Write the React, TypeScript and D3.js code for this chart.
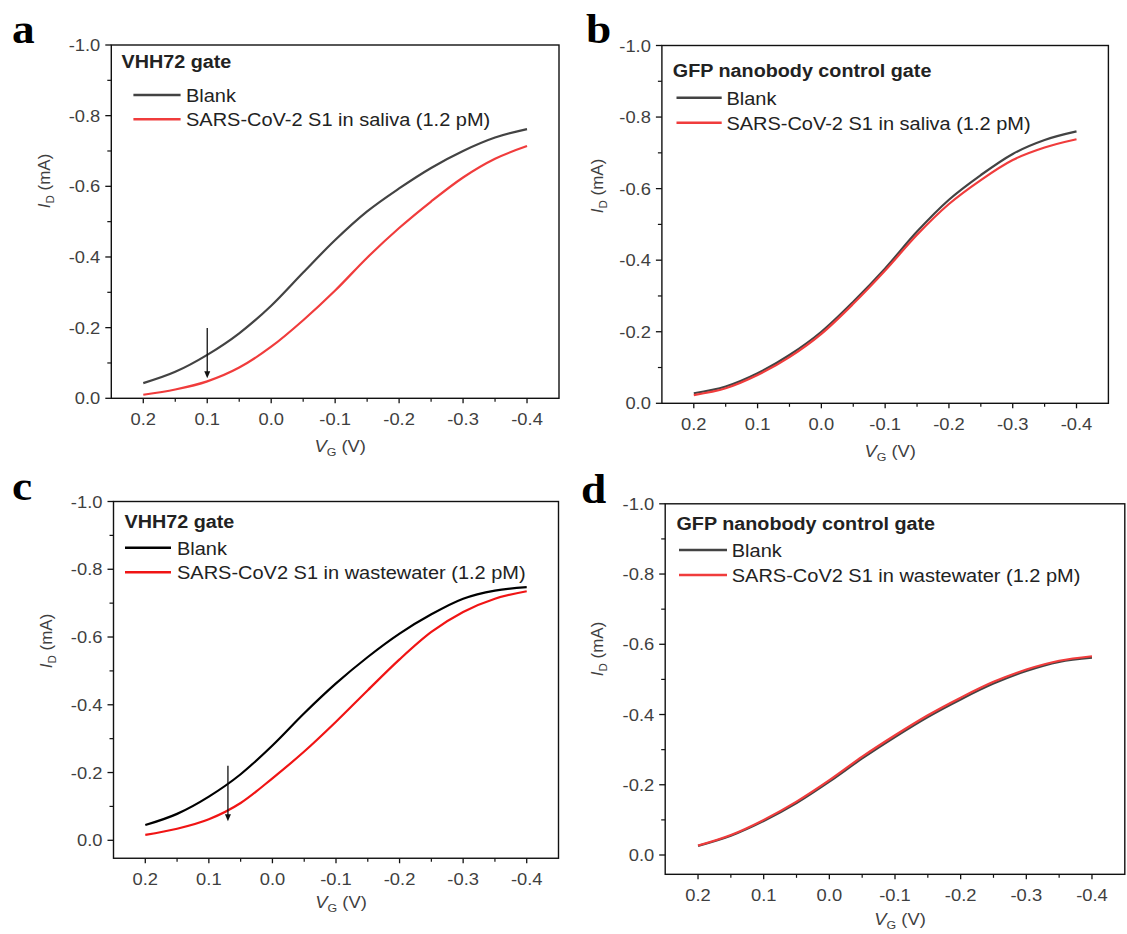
import React from "react";
import * as d3 from "d3";

// gate voltage (V), sampled every 0.05 V
const vgValues = [0.2, 0.15, 0.1, 0.05, 0.0, -0.05, -0.1, -0.15, -0.2, -0.25, -0.3, -0.35, -0.4];

// drain current I_D (mA)
const aBlank = [-0.043, -0.075, -0.123, -0.184, -0.262, -0.356, -0.448, -0.529, -0.594, -0.652, -0.7, -0.738, -0.762];
const aSaliva = [-0.01, -0.025, -0.048, -0.087, -0.146, -0.221, -0.305, -0.398, -0.482, -0.557, -0.625, -0.678, -0.714];
const bBlank = [-0.028, -0.047, -0.084, -0.135, -0.2, -0.284, -0.377, -0.48, -0.569, -0.638, -0.697, -0.736, -0.76];
const bSaliva = [-0.023, -0.042, -0.079, -0.129, -0.194, -0.278, -0.371, -0.471, -0.557, -0.624, -0.68, -0.715, -0.738];
const cBlank = [-0.045, -0.078, -0.129, -0.195, -0.28, -0.375, -0.463, -0.541, -0.61, -0.667, -0.713, -0.737, -0.747];
const cWastewater = [-0.016, -0.034, -0.062, -0.11, -0.183, -0.262, -0.35, -0.443, -0.534, -0.615, -0.674, -0.713, -0.735];
const dBlank = [-0.026, -0.055, -0.097, -0.148, -0.209, -0.275, -0.336, -0.393, -0.443, -0.488, -0.524, -0.55, -0.562];
const dWastewater = [-0.027, -0.057, -0.1, -0.152, -0.213, -0.28, -0.341, -0.398, -0.448, -0.493, -0.528, -0.553, -0.566];

// axis ticks
const xMajorTicks = [0.2, 0.1, 0.0, -0.1, -0.2, -0.3, -0.4];
const xMinorTicks = [0.15, 0.05, -0.05, -0.15, -0.25, -0.35];
const yMajorTicks = [0.0, -0.2, -0.4, -0.6, -0.8, -1.0];
const yMinorTicks = [-0.1, -0.3, -0.5, -0.7, -0.9];

// arrows: [V_G, from I_D, to I_D]
const arrowA = [0.1, -0.199, -0.057];
const arrowC = [0.07, -0.22, -0.056];

const SX = 1.08; // the figure is a little stretched horizontally
const SANS = "'Liberation Sans', Arial, sans-serif";
const GRAY = "#3f3f3f";

const panels = [
  {
    letter: "a", letterPos: [12, 43],
    xRange: [111.3, 559], yRange: [398.3, 45], yBottom: 0,
    title: "VHH72 gate", titlePos: [121.6, 68.3],
    legendX: [133.4, 180.6, 186], legendY: [95, 119.3],
    labels: ["Blank", "SARS-CoV-2 S1 in saliva (1.2 pM)"],
    series: [aBlank, aSaliva], colors: ["#434343", "#f03c3c"],
    yLabel: [50, 181], xLabel: 452, arrow: arrowA,
  },
  {
    letter: "b", letterPos: [586, 43],
    xRange: [661.9, 1108.4], yRange: [403.3, 45.5], yBottom: 0,
    title: "GFP nanobody control gate", titlePos: [672.8, 76.5],
    legendX: [676.5, 721.7, 726.4], legendY: [97.7, 122.7],
    labels: ["Blank", "SARS-CoV-2 S1 in saliva (1.2 pM)"],
    series: [bBlank, bSaliva], colors: ["#434343", "#f03c3c"],
    yLabel: [603, 186], xLabel: 457, arrow: null,
  },
  {
    letter: "c", letterPos: [12, 500],
    xRange: [113.5, 558.5], yRange: [840.3, 501.5], yBottom: 0.053,
    title: "VHH72 gate", titlePos: [124.5, 528.3],
    legendX: [125, 171, 177], legendY: [547.7, 572.3],
    labels: ["Blank", "SARS-CoV2 S1 in wastewater (1.2 pM)"],
    series: [cBlank, cWastewater], colors: ["#000000", "#f01414"],
    yLabel: [52, 641], xLabel: 908, arrow: arrowC,
  },
  {
    letter: "d", letterPos: [581, 503],
    xRange: [665.2, 1124.8], yRange: [855, 503.8], yBottom: 0.055,
    title: "GFP nanobody control gate", titlePos: [676.5, 530],
    legendX: [679, 727, 731.8], legendY: [550, 575],
    labels: ["Blank", "SARS-CoV2 S1 in wastewater (1.2 pM)"],
    series: [dBlank, dWastewater], colors: ["#434343", "#f03c3c"],
    yLabel: [603, 649], xLabel: 925, arrow: null,
  },
];

// horizontally stretched text
const SText = ({ x, y, anchor = "start", size, weight = "normal", family = SANS, fill = GRAY, children }: any) => (
  <text
    transform={`translate(${x},${y}) scale(${SX},1)`}
    textAnchor={anchor}
    fontSize={size}
    fontWeight={weight}
    fontFamily={family}
    fill={fill}
  >
    {children}
  </text>
);

const Panel = ({ p }: any) => {
  const x = d3.scaleLinear().domain([0.25, -0.45]).range(p.xRange);
  const y = d3.scaleLinear().domain([0, -1]).range(p.yRange);
  const left = p.xRange[0], right = p.xRange[1];
  const top = y(-1), bottom = y(p.yBottom);
  const line = d3.line<number>()
    .x((_, i) => x(vgValues[i]))
    .y((d) => y(d))
    .curve(d3.curveMonotoneX);
  const cx = (left + right) / 2 + 5;

  return (
    <g>
      <SText x={p.letterPos[0]} y={p.letterPos[1]} size={42} weight="bold"
        family="'Liberation Serif', 'Times New Roman', serif" fill="#000">{p.letter}</SText>

      {/* curves */}
      {p.series.map((s: number[], i: number) => (
        <path key={i} d={line(s) || ""} fill="none" stroke={p.colors[i]} strokeWidth={2.2} strokeLinejoin="round" />
      ))}

      {/* frame */}
      <rect x={left} y={top} width={right - left} height={bottom - top} fill="none" stroke="#111" strokeWidth={1.4} />

      {/* x ticks */}
      {xMajorTicks.map((v) => (
        <g key={"xm" + v}>
          <line x1={x(v)} x2={x(v)} y1={bottom} y2={bottom + 5} stroke="#111" strokeWidth={1.3} />
          <SText x={x(v)} y={bottom + 26.5} anchor="middle" size={17}>{v === 0 ? "0.0" : v.toFixed(1)}</SText>
        </g>
      ))}
      {xMinorTicks.map((v) => (
        <line key={"xn" + v} x1={x(v)} x2={x(v)} y1={bottom} y2={bottom + 3.5} stroke="#111" strokeWidth={1.2} />
      ))}

      {/* y ticks */}
      {yMajorTicks.map((v) => (
        <g key={"ym" + v}>
          <line x1={left - 6} x2={left} y1={y(v)} y2={y(v)} stroke="#111" strokeWidth={1.3} />
          <SText x={left - 11} y={y(v) + 6} anchor="end" size={17}>{v === 0 ? "0.0" : v.toFixed(1)}</SText>
        </g>
      ))}
      {yMinorTicks.map((v) => (
        <line key={"yn" + v} x1={left - 4} x2={left} y1={y(v)} y2={y(v)} stroke="#111" strokeWidth={1.2} />
      ))}

      {/* axis labels */}
      <text transform={`translate(${p.yLabel[0]},${p.yLabel[1]}) rotate(-90)`} textAnchor="middle"
        fontSize={17} fontFamily={SANS} fill={GRAY}>
        <tspan fontStyle="italic">I</tspan>
        <tspan fontSize={11.5} dy={4}>D</tspan>
        <tspan dy={-4}> (mA)</tspan>
      </text>
      <SText x={cx} y={p.xLabel} anchor="middle" size={17}>
        <tspan fontStyle="italic">V</tspan>
        <tspan fontSize={11.5} dy={4}>G</tspan>
        <tspan dy={-4}> (V)</tspan>
      </SText>

      {/* title + legend */}
      <SText x={p.titlePos[0]} y={p.titlePos[1]} size={18.3} weight="bold" fill="#222">{p.title}</SText>
      {p.labels.map((lab: string, i: number) => (
        <g key={lab + i}>
          <line x1={p.legendX[0]} x2={p.legendX[1]} y1={p.legendY[i]} y2={p.legendY[i]}
            stroke={p.colors[i]} strokeWidth={2.5} />
          <SText x={p.legendX[2]} y={p.legendY[i] + 6.8} size={18.5} fill="#222">{lab}</SText>
        </g>
      ))}

      {/* arrow */}
      {p.arrow && (
        <g>
          <line x1={x(p.arrow[0])} x2={x(p.arrow[0])} y1={y(p.arrow[1])} y2={y(p.arrow[2]) - 5}
            stroke="#111" strokeWidth={1.3} />
          <path d={`M${x(p.arrow[0]) - 3},${y(p.arrow[2]) - 7} L${x(p.arrow[0]) + 3},${y(p.arrow[2]) - 7} L${x(p.arrow[0])},${y(p.arrow[2])} Z`}
            fill="#111" />
        </g>
      )}
    </g>
  );
};

const App = () => (
  <div style={{ position: "absolute", left: 0, top: 0 }}>
    <svg width={1127} height={934} style={{ display: "block", background: "#fff" }}>
      {panels.map((p) => <Panel key={p.letter} p={p} />)}
    </svg>
  </div>
);

export default App;
